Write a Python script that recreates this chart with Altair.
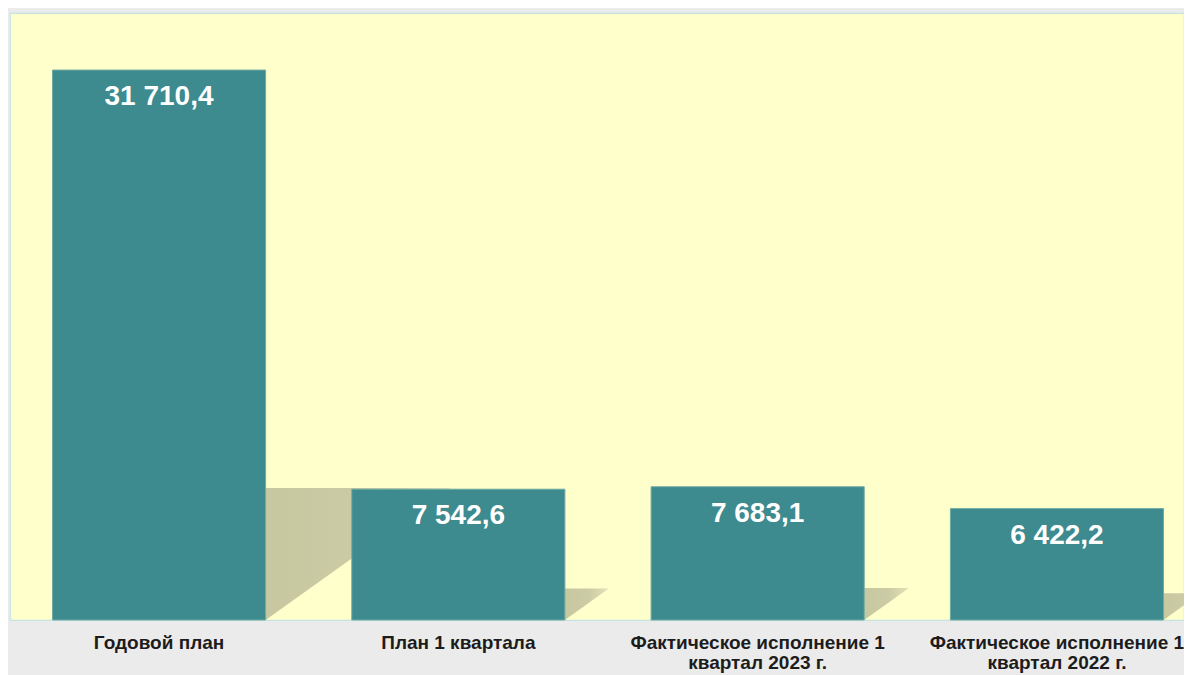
import altair as alt
import pandas as pd

# ---- data ----
categories = [
    "Годовой план",
    "План 1 квартала",
    "Фактическое исполнение 1\nквартал 2023 г.",
    "Фактическое исполнение 1\nквартал 2022 г.",
]
values = [31710.4, 7542.6, 7683.1, 6422.2]
value_labels = ["31 710,4", "7 542,6", "7 683,1", "6 422,2"]

W, H = 1174, 607
Y_MAX = 35000
X_MAX = W / 299.3
BAR_L, BAR_R = 0.142, 0.854

df = pd.DataFrame({
    "cat": categories,
    "i": list(range(len(categories))),
    "value": values,
    "label": value_labels,
})

xscale = alt.Scale(domain=[0, X_MAX], nice=False, zero=False)
yscale = alt.Scale(domain=[0, Y_MAX], nice=False)

base = alt.Chart(df)

shadow = base.transform_calculate(
    x0=f"datum.i + {BAR_R}",
    x1=f"datum.i + {BAR_R} + 1.947e-5 * datum.value",
    s="0.24 * datum.value",
).transform_fold(["x0", "x1"], as_=["pt", "sx"]).transform_calculate(
    sy2="datum.pt == 'x0' ? 0 : datum.s"
).mark_area(
    fill=alt.LinearGradient(
        gradient="linear",
        stops=[alt.GradientStop(color="#c7c7a0", offset=0),
               alt.GradientStop(color="#cbcba5", offset=0.55),
               alt.GradientStop(color="#e4e4b8", offset=1)],
        x1=0, x2=1, y1=0, y2=0,
    )
).encode(
    x=alt.X("sx:Q", scale=xscale, axis=None),
    y=alt.Y("s:Q", scale=yscale, axis=None),
    y2="sy2:Q",
    detail="cat:N",
)

bars = base.transform_calculate(
    xl=f"datum.i + {BAR_L}", xr=f"datum.i + {BAR_R}", zero="0"
).mark_rect(color="#3d8a8f", stroke="#6faaa3", strokeWidth=1).encode(
    x=alt.X("xl:Q", scale=xscale, axis=None),
    x2="xr:Q",
    y=alt.Y("value:Q", scale=yscale, axis=None),
    y2="zero:Q",
)

texts = base.transform_calculate(
    xc=f"datum.i + {(BAR_L + BAR_R) / 2}"
).mark_text(
    color="white", font="Liberation Sans", fontSize=28, fontWeight="bold",
    baseline="alphabetic", align="center", dy=35,
).encode(
    x=alt.X("xc:Q", scale=xscale, axis=None),
    y=alt.Y("value:Q", scale=yscale, axis=None),
    text="label:N",
)

cat_text = base.transform_calculate(
    xc=f"datum.i + {(BAR_L + BAR_R) / 2}"
).mark_text(
    color="#1c1c1c", font="Liberation Sans", fontSize=19, fontWeight="bold",
    baseline="top", align="center", lineBreak="\n", lineHeight=20,
).encode(
    x=alt.X("xc:Q", scale=xscale, axis=None),
    y=alt.value(H + 14),
    text="cat:N",
)

chart = alt.layer(shadow, bars, texts, cat_text).properties(
    width=W,
    height=H,
    autosize=alt.AutoSizeParams(type="none"),
    padding={"left": 2, "top": 5, "right": 0, "bottom": 55},
    background="#ebebeb",
).configure_view(fill="#ffffcc", stroke="#c4e4e4", strokeWidth=1.2)

chart.save("out.html", embed_options={"renderer": "svg", "actions": False})
